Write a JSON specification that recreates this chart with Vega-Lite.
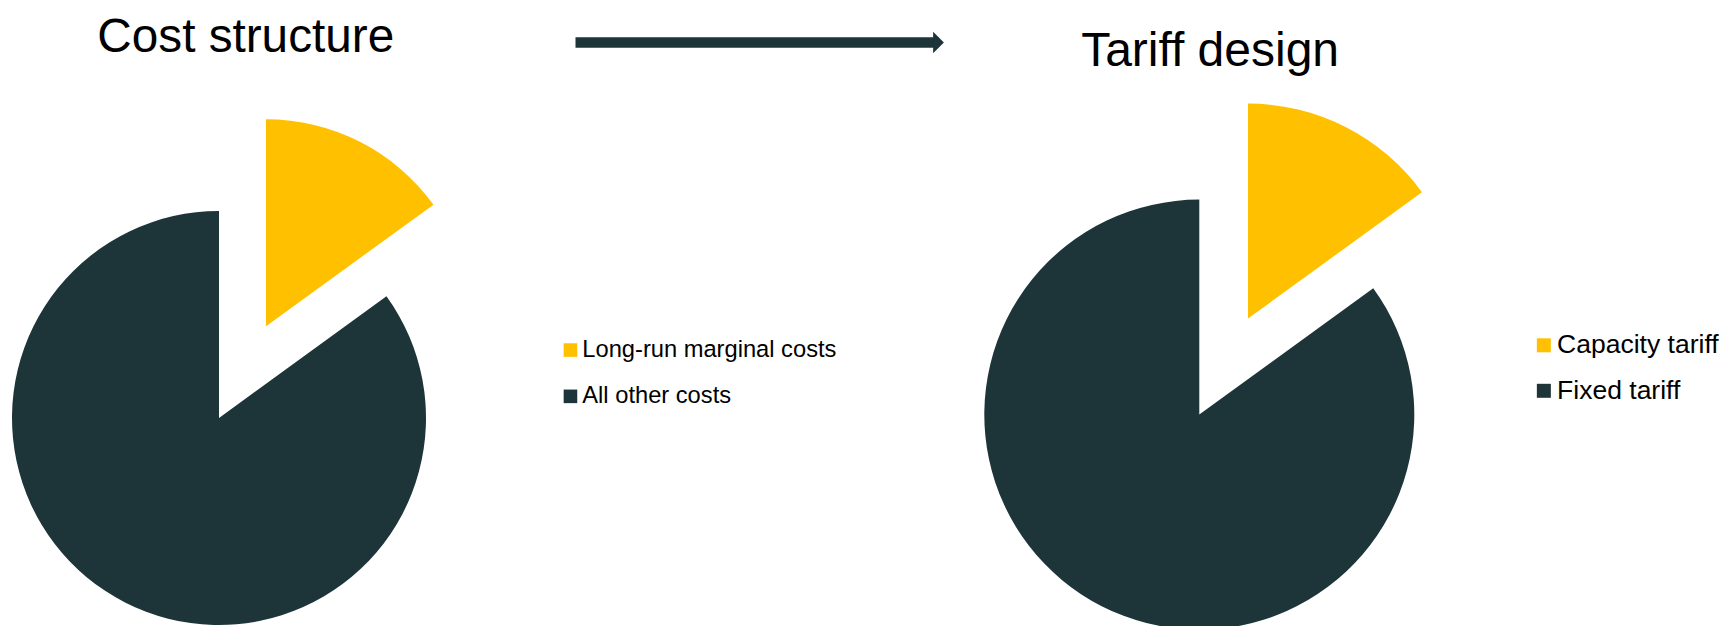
{
  "$schema": "https://vega.github.io/schema/vega-lite/v6.json",
  "padding": {"left": 12, "top": 0, "right": 0, "bottom": -4},
  "autosize": {"type": "pad"},
  "background": "white",
  "config": {"view": {"stroke": null}, "font": "Liberation Sans"},
  "spacing": 18.3,
  "vconcat": [
    {
      "bounds": "flush",
      "spacing": 95.5,
      "hconcat": [
        {
          "width": 467.5,
          "height": 27.4,
          "data": {"values": [{"chart": "Cost structure"}]},
          "mark": {"type": "text", "baseline": "top", "align": "center", "fontSize": 47.7, "font": "Liberation Sans", "color": "#000000"},
          "encoding": {"text": {"field": "chart"}}
        },
        {
          "width": 363,
          "height": 85,
          "data": {"values": [{"from": "Cost structure", "to": "Tariff design"}]},
          "encoding": {
            "x": {"field": "from", "type": "nominal", "scale": {"type": "point", "padding": 0, "domain": ["Cost structure", "Tariff design"]}, "axis": null}
          },
          "layer": [
            {"mark": {"type": "rule", "strokeWidth": 10.4, "color": "#1D3538"}, "encoding": {"x2": {"field": "to"}}},
            {"mark": {"type": "point", "shape": "M-0.5,-1L0.5,0L-0.5,1Z", "size": 467, "filled": true, "opacity": 1, "color": "#1D3538", "strokeWidth": 0}, "encoding": {"x": {"field": "to", "type": "nominal"}}}
          ]
        },
        {
          "width": 352.2,
          "height": 56,
          "data": {"values": [{"chart": "Tariff design"}]},
          "mark": {"type": "text", "baseline": "top", "align": "center", "fontSize": 48, "font": "Liberation Sans", "color": "#000000"},
          "encoding": {"text": {"field": "chart"}}
        }
      ]
    },
    {
      "bounds": "flush",
      "spacing": 558.3,
      "resolve": {"scale": {"color": "independent", "theta": "independent"}, "legend": {"color": "independent"}},
      "hconcat": [
        {
          "width": 414,
          "height": 415.4,
          "data": {"values": [
            {"chart": "Cost structure", "category": "Long-run marginal costs", "share": 15},
            {"chart": "Cost structure", "category": "All other costs", "share": 85}
          ]},
          "transform": [{"stack": "share", "groupby": [], "sort": [{"field": "share", "order": "ascending"}], "as": ["t0", "t1"]}],
          "encoding": {
            "theta": {"field": "t0", "type": "quantitative", "scale": {"domain": [0, 100]}, "stack": null},
            "theta2": {"field": "t1"},
            "color": {
              "field": "category", "type": "nominal",
              "scale": {"domain": ["Long-run marginal costs", "All other costs"], "range": ["#FFC000", "#1D3538"]},
              "legend": {"orient": "none", "legendX": 546.6, "legendY": 127.9, "title": null, "symbolType": "square", "symbolSize": 185, "symbolStrokeWidth": 0, "labelFontSize": 23.7, "labelFont": "Liberation Sans", "labelColor": "#000000", "rowPadding": 21.3, "labelOffset": 0, "padding": 0, "labelLimit": 400}
            }
          },
          "layer": [
            {"transform": [{"filter": "datum.t0 > 0"}], "mark": {"type": "arc", "radius": 207}},
            {"transform": [{"filter": "datum.t0 == 0"}], "mark": {"type": "arc", "radius": 207, "xOffset": 47, "yOffset": -91.7}}
          ]
        },
        {
          "width": 430,
          "height": 408.6,
          "data": {"values": [
            {"chart": "Tariff design", "category": "Capacity tariff", "share": 15},
            {"chart": "Tariff design", "category": "Fixed tariff", "share": 85}
          ]},
          "transform": [{"stack": "share", "groupby": [], "sort": [{"field": "share", "order": "ascending"}], "as": ["t0", "t1"]}],
          "encoding": {
            "theta": {"field": "t0", "type": "quantitative", "scale": {"domain": [0, 100]}, "stack": null},
            "theta2": {"field": "t1"},
            "color": {
              "field": "category", "type": "nominal",
              "scale": {"domain": ["Capacity tariff", "Fixed tariff"], "range": ["#FFC000", "#1D3538"]},
              "legend": {"orient": "none", "legendX": 546.3, "legendY": 121.75, "title": null, "symbolType": "square", "symbolSize": 196, "symbolStrokeWidth": 0, "labelFontSize": 26.5, "labelFont": "Liberation Sans", "labelColor": "#000000", "rowPadding": 18.5, "labelOffset": 0, "padding": 0, "labelLimit": 400}
            }
          },
          "layer": [
            {"transform": [{"filter": "datum.t0 > 0"}], "mark": {"type": "arc", "radius": 215}},
            {"transform": [{"filter": "datum.t0 == 0"}], "mark": {"type": "arc", "radius": 215, "xOffset": 48.7, "yOffset": -96}}
          ]
        }
      ]
    }
  ]
}
